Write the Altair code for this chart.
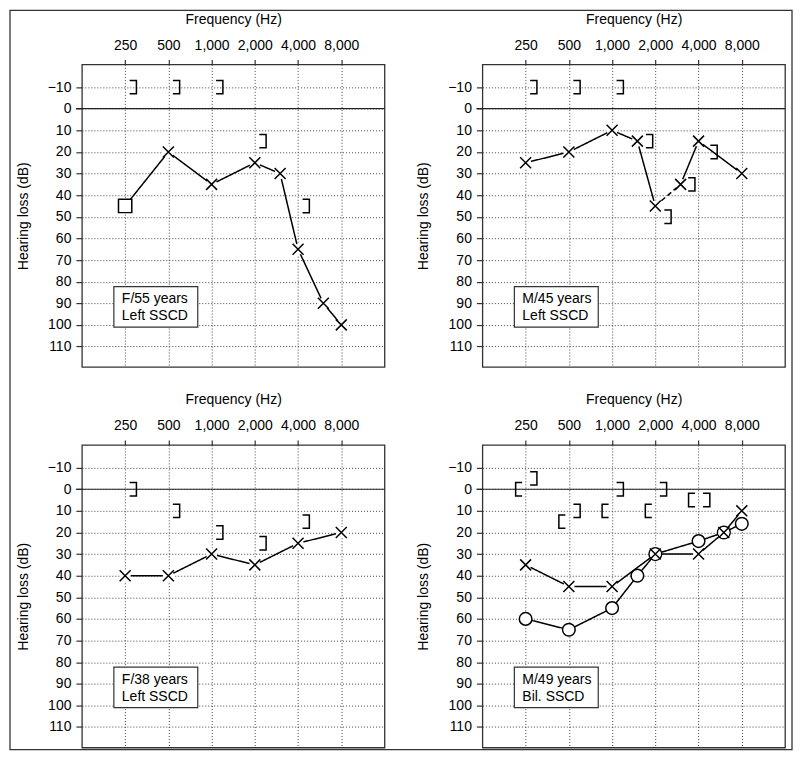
import altair as alt
import pandas as pd

FONT = "Liberation Sans"
PLOT_W = 303
PLOT_H = 303

TICK_FREQS = [250, 500, 1000, 2000, 4000, 8000]
DB_TICKS = [-10, 0, 10, 20, 30, 40, 50, 60, 70, 80, 90, 100, 110]

# ---- Panel 1 ----
P1_LABEL = ["F/55 years", "Left SSCD"]
P1_AIR_FREQ = [250, 500, 1000, 2000, 3000, 4000, 6000, 8000]
P1_AIR_DB = [45, 20, 35, 25, 30, 65, 90, 100]
P1_AIR_SYM = ["square", "x", "x", "x", "x", "x", "x", "x"]
P1_AIR_SEG = ["solid", "solid", "solid", "solid", "solid", "solid", "solid"]
P1_BONE_L_FREQ = [250, 500, 1000, 2000, 4000]
P1_BONE_L_DB = [-10, -10, -10, 15, 45]

# ---- Panel 2 ----
P2_LABEL = ["M/45 years", "Left SSCD"]
P2_AIR_FREQ = [250, 500, 1000, 1500, 2000, 3000, 4000, 8000]
P2_AIR_DB = [25, 20, 10, 15, 45, 35, 15, 30]
P2_AIR_SYM = ["x", "x", "x", "x", "x", "x", "x", "x"]
P2_AIR_SEG = ["solid", "solid", "solid", "solid", "dashed", "solid", "solid"]
P2_BONE_L_FREQ = [250, 500, 1000, 1600, 2150, 3150, 4500]
P2_BONE_L_DB = [-10, -10, -10, 15, 50, 35, 20]

# ---- Panel 3 ----
P3_LABEL = ["F/38 years", "Left SSCD"]
P3_AIR_FREQ = [250, 500, 1000, 2000, 4000, 8000]
P3_AIR_DB = [40, 40, 30, 35, 25, 20]
P3_AIR_SYM = ["x", "x", "x", "x", "x", "x"]
P3_AIR_SEG = ["solid", "solid", "solid", "solid", "solid"]
P3_BONE_L_FREQ = [250, 500, 1000, 2000, 4000]
P3_BONE_L_DB = [0, 10, 20, 25, 15]

# ---- Panel 4 ----
P4_LABEL = ["M/49 years", "Bil. SSCD"]
P4_LEFT_FREQ = [250, 500, 1000, 2000, 4000, 6000, 8000]
P4_LEFT_DB = [35, 45, 45, 30, 30, 20, 10]
P4_LEFT_SYM = ["x", "x", "x", "x", "x", "x", "x"]
P4_LEFT_SEG = ["solid", "solid", "solid", "solid", "solid", "solid"]
P4_RIGHT_FREQ = [250, 500, 1000, 1500, 2000, 4000, 6000, 8000]
P4_RIGHT_DB = [60, 65, 55, 40, 30, 24, 20, 16]
P4_RIGHT_SYM = ["circle", "circle", "circle", "circle", "circle", "circle", "circle", "circle"]
P4_RIGHT_SEG = ["solid", "solid", "solid", "solid", "solid", "solid", "solid"]
P4_BONE_L_FREQ = [250, 500, 1000, 2000, 4000]
P4_BONE_L_DB = [-5, 10, 0, 0, 5]
P4_BONE_R_FREQ = [250, 500, 1000, 2000, 4000]
P4_BONE_R_DB = [0, 15, 10, 10, 5]

X_PATH = "M -0.55 -0.55 L 0.55 0.55 M -0.55 0.55 L 0.55 -0.55"
LBR_PATH = "M 0.45 -0.67 L 1.13 -0.67 L 1.13 0.67 L 0.45 0.67"
RBR_PATH = "M -0.35 -0.67 L -1.0 -0.67 L -1.0 0.67 L -0.35 0.67"

xscale = alt.Scale(type="log", base=2, domain=[125, 16000], nice=False)
yscale = alt.Scale(domain=[-20.5, 119.5], reverse=True, nice=False, zero=False)
xaxis = alt.Axis(orient="top", values=TICK_FREQS, format=",", title="Frequency (Hz)",
                 grid=True, gridDash=[1, 2], gridColor="#444", gridWidth=1,
                 tickSize=5, labelPadding=7, titlePadding=12, domain=False)
yaxis = alt.Axis(orient="left", values=DB_TICKS, title="Hearing loss (dB)",
                 grid=True, gridDash=[1, 2], gridColor="#444", gridWidth=1,
                 tickSize=6, labelPadding=5, titlePadding=17, domain=False)
X = alt.X("f:Q", scale=xscale, axis=xaxis)
Y = alt.Y("db:Q", scale=yscale, axis=yaxis)


def seg_df(series):
    rows = []
    for k, (freqs, dbs, syms, segs) in enumerate(series):
        for i in range(len(freqs) - 1):
            for j in (i, i + 1):
                rows.append({"f": freqs[j], "db": dbs[j], "seg": f"{k}-{i}", "style": segs[i]})
    return pd.DataFrame(rows)


def pts_df(series, sym):
    rows = []
    for freqs, dbs, syms, segs in series:
        for f, d, s in zip(freqs, dbs, syms):
            if s == sym:
                rows.append({"f": f, "db": d})
    return pd.DataFrame(rows, columns=["f", "db"])


def panel(series, bone_l, bone_r, label, frame=False):
    layers = []
    if frame:
        layers.append(
            alt.Chart(pd.DataFrame({"k": [0]})).mark_rect(
                fill="transparent", stroke="#333", strokeWidth=1.3
            ).encode(x=alt.value(-72), x2=alt.value(711), y=alt.value(-54), y2=alt.value(686))
        )
    layers.append(
        alt.Chart(pd.DataFrame({"db": [0]})).mark_rule(color="#222", strokeWidth=1.2).encode(
            y=Y, x=alt.value(-6), x2=alt.value(PLOT_W)
        )
    )
    layers.append(
        alt.Chart(seg_df(series)).mark_line(color="black", strokeWidth=1.5).encode(
            x=X, y=Y, detail="seg:N",
            strokeDash=alt.StrokeDash("style:N", scale=alt.Scale(domain=["solid", "dashed"], range=[[1, 0], [5, 3]]), legend=None),
        )
    )
    sq = pts_df(series, "square")
    if len(sq):
        layers.append(alt.Chart(sq).mark_point(shape="square", size=177, filled=True, fill="white", stroke="black",
                                               strokeWidth=1.5, opacity=1).encode(x=X, y=Y))
    ci = pts_df(series, "circle")
    if len(ci):
        layers.append(alt.Chart(ci).mark_point(shape="circle", size=160, filled=True, fill="white", stroke="black",
                                               strokeWidth=1.5, opacity=1).encode(x=X, y=Y))
    xs = pts_df(series, "x")
    if len(xs):
        layers.append(alt.Chart(xs).mark_point(shape="circle", size=125, filled=True, fill="white",
                                               strokeWidth=0, opacity=1).encode(x=X, y=Y))
        layers.append(alt.Chart(xs).mark_point(shape=X_PATH, size=400, filled=False, stroke="black",
                                               strokeWidth=1.5, opacity=1).encode(x=X, y=Y))
    if bone_l[0]:
        layers.append(alt.Chart(pd.DataFrame({"f": bone_l[0], "db": bone_l[1]})).mark_point(
            shape=LBR_PATH, size=400, filled=False, stroke="black", strokeWidth=1.5, opacity=1).encode(x=X, y=Y))
    if bone_r[0]:
        layers.append(alt.Chart(pd.DataFrame({"f": bone_r[0], "db": bone_r[1]})).mark_point(
            shape=RBR_PATH, size=400, filled=False, stroke="black", strokeWidth=1.5, opacity=1).encode(x=X, y=Y))
    layers.append(
        alt.Chart(pd.DataFrame({"k": [0]})).mark_rect(fill="white", stroke="#333", strokeWidth=1.2).encode(
            x=alt.value(32), x2=alt.value(116), y=alt.value(222.5), y2=alt.value(263)
        )
    )
    layers.append(
        alt.Chart(pd.DataFrame({"t": [label[0]]})).mark_text(align="left", baseline="middle", fontSize=14,
                                                              font=FONT, color="black").encode(
            x=alt.value(40), y=alt.value(235), text="t:N")
    )
    layers.append(
        alt.Chart(pd.DataFrame({"t": [label[1]]})).mark_text(align="left", baseline="middle", fontSize=14,
                                                              font=FONT, color="black").encode(
            x=alt.value(40), y=alt.value(252), text="t:N")
    )
    return alt.layer(*layers).properties(width=PLOT_W, height=PLOT_H)


p1 = panel([(P1_AIR_FREQ, P1_AIR_DB, P1_AIR_SYM, P1_AIR_SEG)], (P1_BONE_L_FREQ, P1_BONE_L_DB), ([], []), P1_LABEL, frame=True)
p2 = panel([(P2_AIR_FREQ, P2_AIR_DB, P2_AIR_SYM, P2_AIR_SEG)], (P2_BONE_L_FREQ, P2_BONE_L_DB), ([], []), P2_LABEL)
p3 = panel([(P3_AIR_FREQ, P3_AIR_DB, P3_AIR_SYM, P3_AIR_SEG)], (P3_BONE_L_FREQ, P3_BONE_L_DB), ([], []), P3_LABEL)
p4 = panel([(P4_LEFT_FREQ, P4_LEFT_DB, P4_LEFT_SYM, P4_LEFT_SEG),
            (P4_RIGHT_FREQ, P4_RIGHT_DB, P4_RIGHT_SYM, P4_RIGHT_SEG)],
           (P4_BONE_L_FREQ, P4_BONE_L_DB), (P4_BONE_R_FREQ, P4_BONE_R_DB), P4_LABEL)

chart = alt.concat(p1, p2, p3, p4, columns=2, spacing={"row": 78, "column": 98}, bounds="flush").properties(
    padding=0, background="white"
).configure_view(
    stroke="#333", strokeWidth=1.3
).configure_axis(
    labelFont=FONT, titleFont=FONT, labelFontSize=14, titleFontSize=14, titleFontWeight="normal",
    labelColor="black", titleColor="black", tickColor="#333", tickWidth=1.2
)

chart.save("out.html", embed_options={"renderer": "svg", "actions": False})
